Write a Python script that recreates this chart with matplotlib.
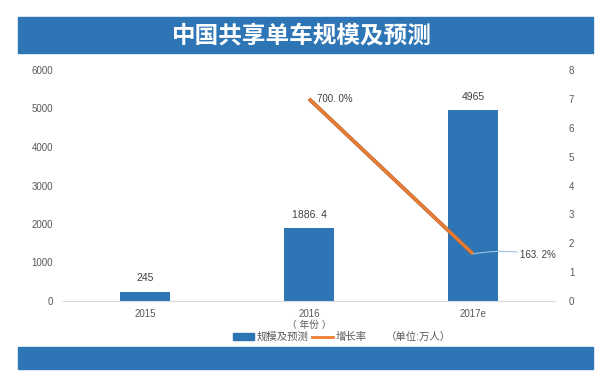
import matplotlib.pyplot as plt
import matplotlib.patheffects as pe
from matplotlib.patches import Rectangle
from matplotlib.lines import Line2D
import numpy as np

plt.rcParams['font.family'] = ['Liberation Sans', 'Noto Sans CJK SC']

# data
years = ['2015', '2016', '2017e']
scale = [245, 1886.4, 4965]          # 规模及预测, 万人
scale_labels = ['245', '1886. 4', '4965']
growth_years = ['2016', '2017e']
growth = [7.0, 1.632]                # 增长率 (700.0%, 163.2%)
growth_labels = ['700. 0%', '163. 2%']

blue = '#2E75B6'
orange = '#ED7D31'
grey = '#595959'

fig = plt.figure(figsize=(6.1, 3.85), dpi=100)
ax = fig.add_axes([63/610, 84/385, 492/610, 231/385])
ax2 = ax.twinx()

x = np.arange(len(years))
ax.bar(x, scale, width=0.31, color=blue, zorder=2)
for xi, v, lab in zip(x, scale, scale_labels):
    ax.annotate(lab, (xi, v), xytext=(0, 6), textcoords='offset points',
                ha='center', va='bottom', fontsize=7.5, color='#404040')

ax.set_xlim(-0.5, 2.5)
ax.set_ylim(0, 6000)
ax.set_yticks(range(0, 6001, 1000))
ax.set_xticks(x)
ax.set_xticklabels(years)
ax2.set_ylim(0, 8)
ax2.set_yticks(range(0, 9))

for a in (ax, ax2):
    for s in ['top', 'right', 'left']:
        a.spines[s].set_visible(False)
    a.tick_params(length=0, labelsize=7, colors=grey)
ax2.spines['bottom'].set_visible(False)
ax.spines['bottom'].set_color('#D9D9D9')
ax.tick_params(axis='y', pad=7)
ax.tick_params(axis='x', pad=6)
ax2.tick_params(axis='y', pad=10)

gx = [years.index(y) for y in growth_years]
ax2.plot(gx, growth, color=orange, linewidth=1.8, solid_capstyle='butt',
         path_effects=[pe.Stroke(linewidth=2.8, foreground='#B8683A'), pe.Normal()])
ax2.annotate(growth_labels[0], (gx[0], growth[0]), xytext=(6, 0),
             textcoords='offset points', ha='left', va='center',
             fontsize=7, color='#404040')
ax2.annotate(growth_labels[1], (gx[1], growth[1]), xytext=(34, -1),
             textcoords='offset points', ha='left', va='center',
             fontsize=7, color='#404040',
             arrowprops=dict(arrowstyle='-', color='#9DC3E6', lw=0.8,
                             shrinkA=0, shrinkB=0,
                             connectionstyle='arc3,rad=0.1'))

# 年份 under middle tick
fig.text(309/610, 1 - 325/385, '（ 年份 ）', ha='center', va='center',
         fontsize=7, color=grey)

# legend row
legend_handles = [Rectangle((0, 0), 1, 1, color=blue),
                  Line2D([0], [0], color=orange, lw=2)]
fig.legend(legend_handles, ['规模及预测', '增长率'], loc='center',
           bbox_to_anchor=(300/610, 1 - 337/385), ncol=2, frameon=False,
           fontsize=7.5, handlelength=2.0, handleheight=0.6,
           columnspacing=0.3, handletextpad=0.3, labelcolor=grey)
fig.text(418/610, 1 - 337/385, '（单位:万人）', ha='center', va='center',
         fontsize=7.5, color=grey)

# banners
fig.add_artist(Rectangle((18/610, 1 - 53/385), 575/610, 36/385,
                         transform=fig.transFigure, color=blue, zorder=0))
fig.add_artist(Rectangle((18/610, 1 - 369/385), 575/610, 22/385,
                         transform=fig.transFigure, color=blue, zorder=0))
fig.text(302/610, 1 - 35/385, '中国共享单车规模及预测', ha='center', va='center',
         fontsize=17, fontweight='bold', color='white',
         family=['Noto Sans CJK SC', 'DejaVu Sans'])

fig.savefig('out.png', dpi=100)
